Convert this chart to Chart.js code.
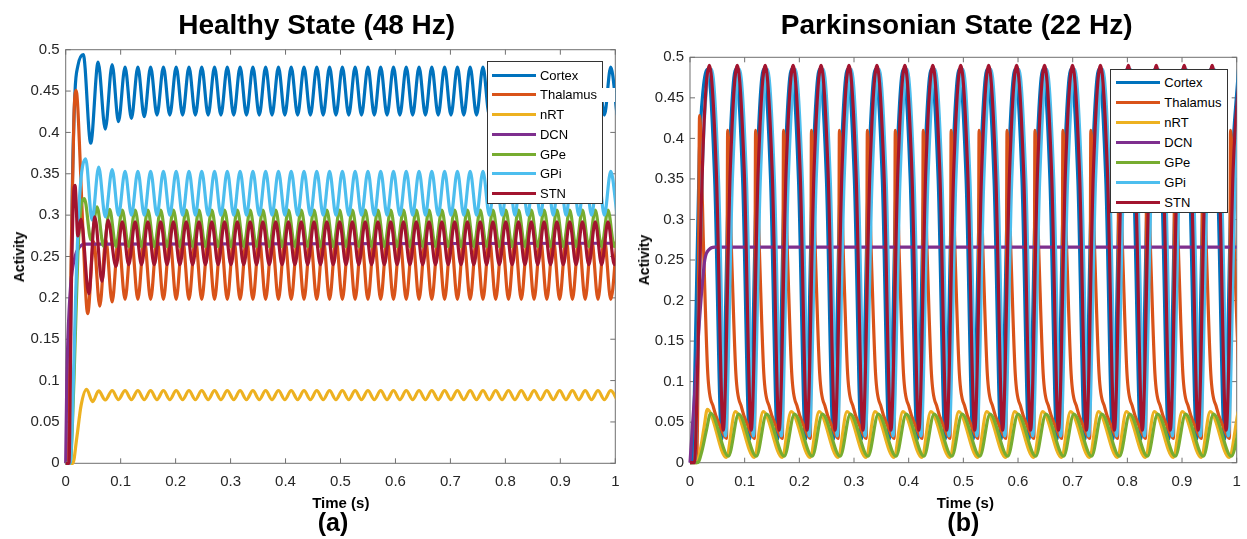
<!DOCTYPE html>
<html>
<head>
<meta charset="utf-8">
<script src="https://cdn.jsdelivr.net/npm/chart.js"></script>
<style>
html,body{margin:0;padding:0;background:#ffffff;}
body{width:1247px;height:539px;position:relative;overflow:hidden;font-family:"Liberation Sans",Arial,Helvetica,sans-serif;color:#000;}
canvas{position:absolute;top:0;}
.txt{position:absolute;white-space:nowrap;font-weight:bold;color:#000;}
.legend{position:absolute;background:#fff;border:1px solid #333;box-sizing:border-box;}
.lsw{position:absolute;height:3px;}
.llab{position:absolute;font-size:13px;line-height:13px;color:#000;white-space:nowrap;}
</style>
</head>
<body>
<canvas id="healthy" width="623" height="539" style="left:0px"></canvas>
<canvas id="parkinson" width="623" height="539" style="left:624px"></canvas>

<div class="txt" style="font-size:28px;line-height:28px;left:316.7px;top:11.3px;transform:translateX(-50%)">Healthy State (48 Hz)</div>
<div class="txt" style="font-size:28px;line-height:28px;left:956.7px;top:11.3px;transform:translateX(-50%)">Parkinsonian State (22 Hz)</div>
<div class="txt" style="font-size:14px;line-height:14px;left:18.5px;top:256.5px;transform:translate(-50%,-50%) rotate(-90deg)">Activity</div>
<div class="txt" style="font-size:14px;line-height:14px;left:643.5px;top:260px;transform:translate(-50%,-50%) rotate(-90deg)">Activity</div>
<div class="txt" style="font-size:15px;line-height:15px;left:340.8px;top:495.3px;transform:translateX(-50%)">Time (s)</div>
<div class="txt" style="font-size:15px;line-height:15px;left:965.3px;top:495.3px;transform:translateX(-50%)">Time (s)</div>
<div class="txt" style="font-size:25px;line-height:25px;left:333px;top:510.3px;transform:translateX(-50%)">(a)</div>
<div class="txt" style="font-size:25px;line-height:25px;left:963.3px;top:510.3px;transform:translateX(-50%)">(b)</div>

<script>
// ---------- labels / ticks ----------
const seriesNames = ['Cortex','Thalamus','nRT','DCN','GPe','GPi','STN'];
const seriesColors = ['#0072BD','#D95319','#EDB120','#7E2F8E','#77AC30','#4DBEEE','#A2142F'];
const timeTicks = [0,0.1,0.2,0.3,0.4,0.5,0.6,0.7,0.8,0.9,1];
const timeTickLabels = ['0','0.1','0.2','0.3','0.4','0.5','0.6','0.7','0.8','0.9','1'];
const activityTicks = [0,0.05,0.1,0.15,0.2,0.25,0.3,0.35,0.4,0.45,0.5];
const activityTickLabels = ['0','0.05','0.1','0.15','0.2','0.25','0.3','0.35','0.4','0.45','0.5'];

// ---------- Healthy state (a) ----------
const healthySteadyT = [
0.1080,0.1196,0.1313,0.1429,0.1545,0.1661,0.1778,0.1894,0.2010,0.2127,
0.2243,0.2359,0.2475,0.2592,0.2708,0.2824,0.2940,0.3057,0.3173,0.3289,
0.3406,0.3522,0.3638,0.3754,0.3871,0.3987,0.4103,0.4220,0.4336,0.4452,
0.4568,0.4685,0.4801,0.4917,0.5034,0.5150,0.5266,0.5382,0.5499,0.5615,
0.5731,0.5847,0.5964,0.6080,0.6196,0.6313,0.6429,0.6545,0.6661,0.6778,
0.6894,0.7010,0.7127,0.7243,0.7359,0.7475,0.7592,0.7708,0.7824,0.7940,
0.8057,0.8173,0.8289,0.8406,0.8522,0.8638,0.8754,0.8871,0.8987,0.9103,
0.9220,0.9336,0.9452,0.9568,0.9685,0.9801,0.9917,1.0033];
const healthyLeadT = [
0.1030,0.1146,0.1263,0.1379,0.1495,0.1611,0.1728,0.1844,0.1960,0.2077,
0.2193,0.2309,0.2425,0.2542,0.2658,0.2774,0.2890,0.3007,0.3123,0.3239,
0.3356,0.3472,0.3588,0.3704,0.3821,0.3937,0.4053,0.4170,0.4286,0.4402,
0.4518,0.4635,0.4751,0.4867,0.4984,0.5100,0.5216,0.5332,0.5449,0.5565,
0.5681,0.5797,0.5914,0.6030,0.6146,0.6263,0.6379,0.6495,0.6611,0.6728,
0.6844,0.6960,0.7077,0.7193,0.7309,0.7425,0.7542,0.7658,0.7774,0.7890,
0.8007,0.8123,0.8239,0.8356,0.8472,0.8588,0.8704,0.8821,0.8937,0.9053,
0.9170,0.9286,0.9402,0.9518,0.9635,0.9751,0.9867,0.9983,1.0099];

const hCortexT0 = [0,0.004,0.008,0.012,0.017,0.022,0.032,0.0455,0.059,0.072,0.0845,0.096];
const hCortexV0 = [0,0,0.10,0.33,0.45,0.48,0.494,0.387,0.485,0.404,0.482,0.413];
const hCortexV = [
0.479,0.417,0.479,0.419,0.479,0.421,0.479,0.421,0.479,0.421,
0.479,0.421,0.479,0.421,0.479,0.421,0.479,0.421,0.479,0.421,
0.479,0.421,0.479,0.421,0.479,0.421,0.479,0.421,0.479,0.421,
0.479,0.421,0.479,0.421,0.479,0.421,0.479,0.421,0.479,0.421,
0.479,0.421,0.479,0.421,0.479,0.421,0.479,0.421,0.479,0.421,
0.479,0.421,0.479,0.421,0.479,0.421,0.479,0.421,0.479,0.421,
0.479,0.421,0.479,0.421,0.479,0.421,0.479,0.421,0.479,0.421,
0.479,0.421,0.479,0.421,0.479,0.421,0.479,0.421];

const hThalT0 = [0,0.004,0.010,0.015,0.019,0.022,0.026,0.032,0.040,0.051,0.062,0.073,0.0845,0.096];
const hThalV0 = [0,0,0.25,0.42,0.451,0.43,0.37,0.27,0.181,0.268,0.19,0.27,0.195,0.272];
const hThalV = [
0.198,0.272,0.198,0.272,0.198,0.272,0.198,0.272,0.198,0.272,
0.198,0.272,0.198,0.272,0.198,0.272,0.198,0.272,0.198,0.272,
0.198,0.272,0.198,0.272,0.198,0.272,0.198,0.272,0.198,0.272,
0.198,0.272,0.198,0.272,0.198,0.272,0.198,0.272,0.198,0.272,
0.198,0.272,0.198,0.272,0.198,0.272,0.198,0.272,0.198,0.272,
0.198,0.272,0.198,0.272,0.198,0.272,0.198,0.272,0.198,0.272,
0.198,0.272,0.198,0.272,0.198,0.272,0.198,0.272,0.198,0.272,
0.198,0.272,0.198,0.272,0.198,0.272,0.198,0.272];

const hNrtT0 = [0,0.013,0.020,0.028,0.038,0.049,0.060,0.072,0.0845,0.096];
const hNrtV0 = [0,0,0.03,0.07,0.0895,0.0745,0.0875,0.0765,0.088,0.077];
const hNrtV = [
0.088,0.077,0.088,0.077,0.088,0.077,0.088,0.077,0.088,0.077,
0.088,0.077,0.088,0.077,0.088,0.077,0.088,0.077,0.088,0.077,
0.088,0.077,0.088,0.077,0.088,0.077,0.088,0.077,0.088,0.077,
0.088,0.077,0.088,0.077,0.088,0.077,0.088,0.077,0.088,0.077,
0.088,0.077,0.088,0.077,0.088,0.077,0.088,0.077,0.088,0.077,
0.088,0.077,0.088,0.077,0.088,0.077,0.088,0.077,0.088,0.077,
0.088,0.077,0.088,0.077,0.088,0.077,0.088,0.077,0.088,0.077,
0.088,0.077,0.088,0.077,0.088,0.077,0.088,0.077];

const hDcnT = [0,0.002,0.004,0.009,0.017,0.026,0.035,1.0];
const hDcnV = [0,0.10,0.15,0.215,0.25,0.262,0.265,0.266];

const hGpeT0 = [0,0.008,0.015,0.022,0.028,0.034,0.046,0.057,0.069,0.080,0.0914];
const hGpeV0 = [0,0,0.10,0.25,0.31,0.32,0.27,0.31,0.262,0.307,0.262];
const hGpeV = [
0.306,0.262,0.306,0.262,0.306,0.262,0.306,0.262,0.306,0.262,
0.306,0.262,0.306,0.262,0.306,0.262,0.306,0.262,0.306,0.262,
0.306,0.262,0.306,0.262,0.306,0.262,0.306,0.262,0.306,0.262,
0.306,0.262,0.306,0.262,0.306,0.262,0.306,0.262,0.306,0.262,
0.306,0.262,0.306,0.262,0.306,0.262,0.306,0.262,0.306,0.262,
0.306,0.262,0.306,0.262,0.306,0.262,0.306,0.262,0.306,0.262,
0.306,0.262,0.306,0.262,0.306,0.262,0.306,0.262,0.306,0.262,
0.306,0.262,0.306,0.262,0.306,0.262,0.306,0.262,0.306];

const hGpiT0 = [0,0.008,0.012,0.018,0.025,0.0364,0.048,0.060,0.072,0.0845,0.096];
const hGpiV0 = [0,0,0.05,0.20,0.32,0.368,0.294,0.358,0.298,0.355,0.300];
const hGpiV = [
0.353,0.300,0.353,0.300,0.353,0.300,0.353,0.300,0.353,0.300,
0.353,0.300,0.353,0.300,0.353,0.300,0.353,0.300,0.353,0.300,
0.353,0.300,0.353,0.300,0.353,0.300,0.353,0.300,0.353,0.300,
0.353,0.300,0.353,0.300,0.353,0.300,0.353,0.300,0.353,0.300,
0.353,0.300,0.353,0.300,0.353,0.300,0.353,0.300,0.353,0.300,
0.353,0.300,0.353,0.300,0.353,0.300,0.353,0.300,0.353,0.300,
0.353,0.300,0.353,0.300,0.353,0.300,0.353,0.300,0.353,0.300,
0.353,0.300,0.353,0.300,0.353,0.300,0.353,0.300];

const hStnT0 = [0,0.006,0.010,0.014,0.017,0.022,0.028,0.042,0.053,0.066,0.077,0.0914];
const hStnV0 = [0,0,0.20,0.32,0.336,0.275,0.295,0.205,0.298,0.22,0.294,0.238];
const hStnV = [
0.292,0.240,0.292,0.240,0.292,0.240,0.292,0.240,0.292,0.240,
0.292,0.240,0.292,0.240,0.292,0.240,0.292,0.240,0.292,0.240,
0.292,0.240,0.292,0.240,0.292,0.240,0.292,0.240,0.292,0.240,
0.292,0.240,0.292,0.240,0.292,0.240,0.292,0.240,0.292,0.240,
0.292,0.240,0.292,0.240,0.292,0.240,0.292,0.240,0.292,0.240,
0.292,0.240,0.292,0.240,0.292,0.240,0.292,0.240,0.292,0.240,
0.292,0.240,0.292,0.240,0.292,0.240,0.292,0.240,0.292,0.240,
0.292,0.240,0.292,0.240,0.292,0.240,0.292,0.240,0.292];

// ---------- Parkinsonian state (b) ----------
const pdCortexT = [0,0.004,0.010,0.017,0.024,
0.0323,0.0451,0.0579,0.0706, 0.0834,0.0962,0.1090,0.1217,
0.1345,0.1473,0.1601,0.1728, 0.1856,0.1984,0.2112,0.2239,
0.2367,0.2495,0.2623,0.2750, 0.2878,0.3006,0.3134,0.3261,
0.3389,0.3517,0.3645,0.3772, 0.3900,0.4028,0.4156,0.4283,
0.4411,0.4539,0.4667,0.4794, 0.4922,0.5050,0.5178,0.5305,
0.5433,0.5561,0.5689,0.5816, 0.5944,0.6072,0.6200,0.6327,
0.6455,0.6583,0.6711,0.6838, 0.6966,0.7094,0.7222,0.7349,
0.7477,0.7605,0.7733,0.7860, 0.7988,0.8116,0.8244,0.8371,
0.8499,0.8627,0.8755,0.8882, 0.9010,0.9138,0.9266,0.9393,
0.9521,0.9649,0.9777,0.9904, 1.0032];
const pdCortexV = [0,0,0.15,0.38,0.46,
0.485,0.35,0.029,0.35, 0.485,0.35,0.029,0.35,
0.485,0.35,0.029,0.35, 0.485,0.35,0.029,0.35,
0.485,0.35,0.029,0.35, 0.485,0.35,0.029,0.35,
0.485,0.35,0.029,0.35, 0.485,0.35,0.029,0.35,
0.485,0.35,0.029,0.35, 0.485,0.35,0.029,0.35,
0.485,0.35,0.029,0.35, 0.485,0.35,0.029,0.35,
0.485,0.35,0.029,0.35, 0.485,0.35,0.029,0.35,
0.485,0.35,0.029,0.35, 0.485,0.35,0.029,0.35,
0.485,0.35,0.029,0.35, 0.485,0.35,0.029,0.35,
0.485,0.35,0.029,0.35, 0.485];

// thalamus: steep rise each cycle, then a fast fall and a decaying tail
const pdThalT = [0,0.012,0.0145,0.0175,0.025,0.0325,0.043,0.055,
0.0669,0.0689,0.0764,0.0839,0.0944,0.1064,
0.1180,0.1200,0.1275,0.1350,0.1455,0.1575,
0.1691,0.1711,0.1786,0.1861,0.1966,0.2086,
0.2202,0.2222,0.2297,0.2372,0.2477,0.2597,
0.2713,0.2733,0.2808,0.2883,0.2988,0.3108,
0.3224,0.3244,0.3319,0.3394,0.3499,0.3619,
0.3735,0.3755,0.3830,0.3905,0.4010,0.4130,
0.4246,0.4266,0.4341,0.4416,0.4521,0.4641,
0.4757,0.4777,0.4852,0.4927,0.5032,0.5152,
0.5268,0.5288,0.5363,0.5438,0.5543,0.5663,
0.5779,0.5799,0.5874,0.5949,0.6054,0.6174,
0.6290,0.6310,0.6385,0.6460,0.6565,0.6685,
0.6801,0.6821,0.6896,0.6971,0.7076,0.7196,
0.7312,0.7332,0.7407,0.7482,0.7587,0.7707,
0.7823,0.7843,0.7918,0.7993,0.8098,0.8218,
0.8334,0.8354,0.8429,0.8504,0.8609,0.8729,
0.8845,0.8865,0.8940,0.9015,0.9120,0.9240,
0.9356,0.9376,0.9451,0.9526,0.9631,0.9751,
0.9867,0.9887,0.9962,1.0037];
const pdThalV = [0,0,0.10,0.428,0.26,0.11,0.068,0.045,
0.03,0.41,0.25,0.11,0.068,0.045,
0.03,0.41,0.25,0.11,0.068,0.045,
0.03,0.41,0.25,0.11,0.068,0.045,
0.03,0.41,0.25,0.11,0.068,0.045,
0.03,0.41,0.25,0.11,0.068,0.045,
0.03,0.41,0.25,0.11,0.068,0.045,
0.03,0.41,0.25,0.11,0.068,0.045,
0.03,0.41,0.25,0.11,0.068,0.045,
0.03,0.41,0.25,0.11,0.068,0.045,
0.03,0.41,0.25,0.11,0.068,0.045,
0.03,0.41,0.25,0.11,0.068,0.045,
0.03,0.41,0.25,0.11,0.068,0.045,
0.03,0.41,0.25,0.11,0.068,0.045,
0.03,0.41,0.25,0.11,0.068,0.045,
0.03,0.41,0.25,0.11,0.068,0.045,
0.03,0.41,0.25,0.11,0.068,0.045,
0.03,0.41,0.25,0.11,0.068,0.045,
0.03,0.41,0.25,0.11,0.068,0.045,
0.03,0.41,0.25,0.11];

const pdNrtT = [0,0.012,0.020,0.026,
0.0317,0.0663, 0.0828,0.1174, 0.1339,0.1685, 0.1850,0.2196, 0.2361,0.2707,
0.2872,0.3218, 0.3383,0.3729, 0.3894,0.4240, 0.4405,0.4751, 0.4916,0.5262,
0.5427,0.5773, 0.5938,0.6284, 0.6449,0.6795, 0.6960,0.7306, 0.7471,0.7817,
0.7982,0.8328, 0.8493,0.8839, 0.9004,0.9350, 0.9515,0.9861, 1.0026];
const pdNrtV = [0,0,0.02,0.045,
0.0658,0.0066, 0.063,0.0066, 0.063,0.0066, 0.063,0.0066, 0.063,0.0066,
0.063,0.0066, 0.063,0.0066, 0.063,0.0066, 0.063,0.0066, 0.063,0.0066,
0.063,0.0066, 0.063,0.0066, 0.063,0.0066, 0.063,0.0066, 0.063,0.0066,
0.063,0.0066, 0.063,0.0066, 0.063,0.0066, 0.063,0.0066, 0.063];

const pdDcnT = [0,0.010,0.020,0.027,0.035,0.045,1.0];
const pdDcnV = [0,0.10,0.20,0.25,0.263,0.266,0.266];

const pdGpeT = [0,0.014,0.022,0.030,
0.0378,0.0703, 0.0889,0.1214, 0.1400,0.1725, 0.1911,0.2236, 0.2422,0.2747,
0.2933,0.3258, 0.3444,0.3769, 0.3955,0.4280, 0.4466,0.4791, 0.4977,0.5302,
0.5488,0.5813, 0.5999,0.6324, 0.6510,0.6835, 0.7021,0.7346, 0.7532,0.7857,
0.8043,0.8368, 0.8554,0.8879, 0.9065,0.9390, 0.9576,0.9901, 1.0087];
const pdGpeV = [0,0,0.015,0.04,
0.061,0.008, 0.060,0.008, 0.060,0.008, 0.060,0.008, 0.060,0.008,
0.060,0.008, 0.060,0.008, 0.060,0.008, 0.060,0.008, 0.060,0.008,
0.060,0.008, 0.060,0.008, 0.060,0.008, 0.060,0.008, 0.060,0.008,
0.060,0.008, 0.060,0.008, 0.060,0.008, 0.060,0.008, 0.060];

const pdGpiT = [0,0.008,0.015,0.022,0.030,
0.0393,0.0521,0.0649,0.0776, 0.0904,0.1032,0.1160,0.1287,
0.1415,0.1543,0.1671,0.1798, 0.1926,0.2054,0.2182,0.2309,
0.2437,0.2565,0.2693,0.2820, 0.2948,0.3076,0.3204,0.3331,
0.3459,0.3587,0.3715,0.3842, 0.3970,0.4098,0.4226,0.4353,
0.4481,0.4609,0.4737,0.4864, 0.4992,0.5120,0.5248,0.5375,
0.5503,0.5631,0.5759,0.5886, 0.6014,0.6142,0.6270,0.6397,
0.6525,0.6653,0.6781,0.6908, 0.7036,0.7164,0.7292,0.7419,
0.7547,0.7675,0.7803,0.7930, 0.8058,0.8186,0.8314,0.8441,
0.8569,0.8697,0.8825,0.8952, 0.9080,0.9208,0.9336,0.9463,
0.9591,0.9719,0.9847,0.9974, 1.0102];
const pdGpiV = [0,0,0.15,0.35,0.46,
0.485,0.35,0.033,0.35, 0.485,0.35,0.033,0.35,
0.485,0.35,0.033,0.35, 0.485,0.35,0.033,0.35,
0.485,0.35,0.033,0.35, 0.485,0.35,0.033,0.35,
0.485,0.35,0.033,0.35, 0.485,0.35,0.033,0.35,
0.485,0.35,0.033,0.35, 0.485,0.35,0.033,0.35,
0.485,0.35,0.033,0.35, 0.485,0.35,0.033,0.35,
0.485,0.35,0.033,0.35, 0.485,0.35,0.033,0.35,
0.485,0.35,0.033,0.35, 0.485,0.35,0.033,0.35,
0.485,0.35,0.033,0.35, 0.485,0.35,0.033,0.35,
0.485,0.35,0.033,0.35, 0.485];

const pdStnT = [0,0.008,0.014,0.020,0.0265,
0.0353,0.0481,0.0609,0.0736, 0.0864,0.0992,0.1120,0.1247,
0.1375,0.1503,0.1631,0.1758, 0.1886,0.2014,0.2142,0.2269,
0.2397,0.2525,0.2653,0.2780, 0.2908,0.3036,0.3164,0.3291,
0.3419,0.3547,0.3675,0.3802, 0.3930,0.4058,0.4186,0.4313,
0.4441,0.4569,0.4697,0.4824, 0.4952,0.5080,0.5208,0.5335,
0.5463,0.5591,0.5719,0.5846, 0.5974,0.6102,0.6230,0.6357,
0.6485,0.6613,0.6741,0.6868, 0.6996,0.7124,0.7252,0.7379,
0.7507,0.7635,0.7763,0.7890, 0.8018,0.8146,0.8274,0.8401,
0.8529,0.8657,0.8785,0.8912, 0.9040,0.9168,0.9296,0.9423,
0.9551,0.9679,0.9807,0.9934, 1.0062];
const pdStnV = [0,0,0.12,0.30,0.43,
0.49,0.36,0.04,0.36, 0.49,0.36,0.04,0.36,
0.49,0.36,0.04,0.36, 0.49,0.36,0.04,0.36,
0.49,0.36,0.04,0.36, 0.49,0.36,0.04,0.36,
0.49,0.36,0.04,0.36, 0.49,0.36,0.04,0.36,
0.49,0.36,0.04,0.36, 0.49,0.36,0.04,0.36,
0.49,0.36,0.04,0.36, 0.49,0.36,0.04,0.36,
0.49,0.36,0.04,0.36, 0.49,0.36,0.04,0.36,
0.49,0.36,0.04,0.36, 0.49,0.36,0.04,0.36,
0.49,0.36,0.04,0.36, 0.49,0.36,0.04,0.36,
0.49,0.36,0.04,0.36, 0.49];

// ---------- build ----------
function pts(t, v){ return t.map((x, i) => ({x: x, y: v[i]})); }

const healthyData = [
  pts(hCortexT0, hCortexV0).concat(pts(healthySteadyT, hCortexV)),
  pts(hThalT0, hThalV0).concat(pts(healthySteadyT, hThalV)),
  pts(hNrtT0, hNrtV0).concat(pts(healthySteadyT, hNrtV)),
  pts(hDcnT, hDcnV),
  pts(hGpeT0, hGpeV0).concat(pts(healthyLeadT, hGpeV)),
  pts(hGpiT0, hGpiV0).concat(pts(healthySteadyT, hGpiV)),
  pts(hStnT0, hStnV0).concat(pts(healthyLeadT, hStnV))
];
const parkinsonData = [
  pts(pdCortexT, pdCortexV),
  pts(pdThalT, pdThalV),
  pts(pdNrtT, pdNrtV),
  pts(pdDcnT, pdDcnV),
  pts(pdGpeT, pdGpeV),
  pts(pdGpiT, pdGpiV),
  pts(pdStnT, pdStnV)
];

function makeDatasets(dataList){
  return dataList.map((d, i) => ({
    label: seriesNames[i], data: d,
    borderColor: seriesColors[i], backgroundColor: seriesColors[i],
    borderWidth: 3.2, pointRadius: 0, pointHoverRadius: 0, fill: false,
    cubicInterpolationMode: 'monotone', order: seriesNames.length - i,
    clip: {left: 2, top: 2, right: 0, bottom: 2}
  }));
}

const boxPlugin = {
  id: 'matlabBox',
  beforeDatasetsDraw(chart){
    const {ctx, chartArea: a, scales} = chart;
    ctx.save();
    ctx.strokeStyle = '#707070';
    ctx.lineWidth = 1;
    ctx.strokeRect(a.left, a.top, a.width, a.height);
    ctx.beginPath();
    const tl = 5;
    timeTicks.forEach(v => {
      const x = scales.x.getPixelForValue(v);
      ctx.moveTo(x, a.bottom); ctx.lineTo(x, a.bottom - tl);
      ctx.moveTo(x, a.top); ctx.lineTo(x, a.top + tl);
    });
    activityTicks.forEach(v => {
      const y = scales.y.getPixelForValue(v);
      ctx.moveTo(a.left, y); ctx.lineTo(a.left + tl, y);
      ctx.moveTo(a.right, y); ctx.lineTo(a.right - tl, y);
    });
    ctx.stroke();
    ctx.restore();
  }
};

const tickFont = {family: '"Liberation Sans", Arial, Helvetica, sans-serif', size: 15};

function makeChart(id, dataList, pad, yWidth){
  return new Chart(document.getElementById(id), {
    type: 'line',
    data: {datasets: makeDatasets(dataList)},
    options: {
      responsive: false, animation: false, devicePixelRatio: 1,
      parsing: false, normalized: true, events: [],
      layout: {padding: pad},
      plugins: {legend: {display: false}, tooltip: {enabled: false}, title: {display: false}},
      scales: {
        x: {
          type: 'linear', min: 0, max: 1,
          afterBuildTicks: s => { s.ticks = timeTicks.map(v => ({value: v})); },
          afterFit: s => { s.height = 30; s.paddingLeft = 0; s.paddingRight = 0; },
          ticks: {autoSkip: false, maxRotation: 0, padding: 10, color: '#262626', font: tickFont,
                  callback: (v, i) => timeTickLabels[i]},
          grid: {display: false, drawTicks: false}, border: {display: false}
        },
        y: {
          type: 'linear', min: 0, max: 0.5,
          afterBuildTicks: s => { s.ticks = activityTicks.map(v => ({value: v})); },
          afterFit: s => { s.width = yWidth; s.paddingTop = 0; s.paddingBottom = 0; },
          ticks: {autoSkip: false, padding: 6, color: '#262626', font: tickFont,
                  callback: (v, i) => activityTickLabels[i]},
          grid: {display: false, drawTicks: false}, border: {display: false}
        }
      }
    },
    plugins: [boxPlugin]
  });
}

makeChart('healthy', healthyData, {left: 0, top: 49.7, right: 7.7, bottom: 45.7}, 65.7);
makeChart('parkinson', parkinsonData, {left: 0, top: 57.3, right: 10.3, bottom: 46.3}, 66);

// ---------- legends (HTML) ----------
function buildLegend(left, top, width, height, row0, rowStep, swX, swW, textX, whiteRow){
  const box = document.createElement('div');
  box.className = 'legend';
  Object.assign(box.style, {left: left + 'px', top: top + 'px', width: width + 'px', height: height + 'px'});
  seriesNames.forEach((name, i) => {
    const cy = row0 + i * rowStep - top - 1;
    const sw = document.createElement('div');
    sw.className = 'lsw';
    Object.assign(sw.style, {left: (swX - left - 1) + 'px', top: (cy - 1.5) + 'px', width: swW + 'px', background: seriesColors[i]});
    const lb = document.createElement('div');
    lb.className = 'llab';
    lb.textContent = name;
    Object.assign(lb.style, {left: (textX - left - 1) + 'px', top: (cy - 6.5) + 'px'});
    box.appendChild(sw); box.appendChild(lb);
  });
  document.body.appendChild(box);
  if (whiteRow !== undefined){
    const cy = row0 + whiteRow * rowStep;
    const w = document.createElement('div');
    Object.assign(w.style, {position: 'absolute', left: (left + width - 6) + 'px', top: (cy - 7) + 'px', width: '18px', height: '14px', background: '#fff'});
    document.body.appendChild(w);
  }
}
buildLegend(486.7, 61, 116.5, 142.5, 75, 19.75, 491.7, 44.3, 540, 1);
buildLegend(1110.3, 69.3, 117.5, 144, 82.7, 19.95, 1115.7, 44.3, 1164.3);
</script>
</body>
</html>
